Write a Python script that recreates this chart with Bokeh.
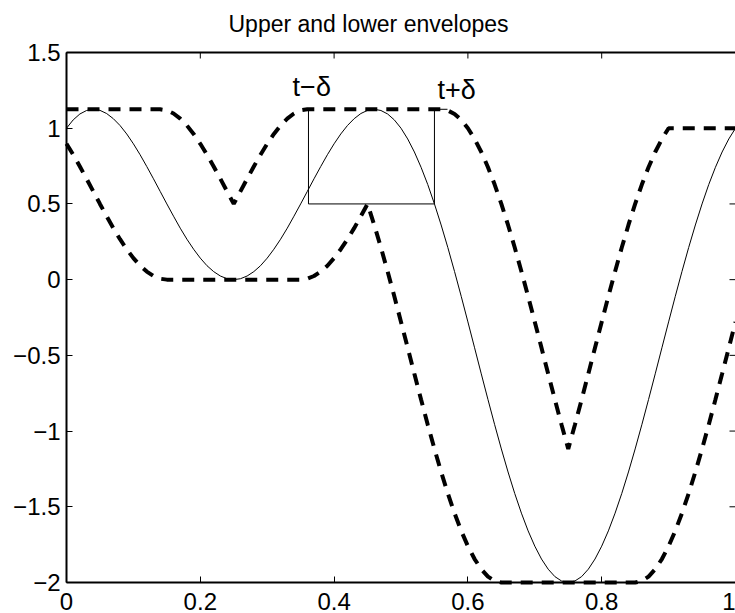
from bokeh.plotting import figure
from bokeh.models import (Range1d, LinearAxis, FixedTicker, Label, ColumnDataSource)
from bokeh.embed import file_html
from bokeh.resources import INLINE

# ---- data ----
t = [k / 100 for k in range(101)]

signal = [1.000, 1.055, 1.094, 1.117, 1.125, 1.118, 1.097, 1.063, 1.018, 0.962,
          0.897, 0.825, 0.747, 0.666, 0.583, 0.500, 0.419, 0.340, 0.267, 0.201,
          0.142, 0.092, 0.053, 0.024, 0.006, 0.000, 0.006, 0.024, 0.053, 0.092,
          0.142, 0.201, 0.267, 0.340, 0.419, 0.500, 0.583, 0.666, 0.747, 0.825,
          0.897, 0.962, 1.018, 1.063, 1.097, 1.118, 1.125, 1.117, 1.094, 1.055,
          1.000, 0.929, 0.843, 0.742, 0.628, 0.500, 0.361, 0.212, 0.054, -0.110,
          -0.279, -0.450, -0.622, -0.792, -0.958, -1.118, -1.270, -1.412, -1.542, -1.659,
          -1.760, -1.845, -1.912, -1.961, -1.990, -2.000, -1.990, -1.961, -1.912, -1.845,
          -1.760, -1.659, -1.542, -1.412, -1.270, -1.118, -0.958, -0.792, -0.622, -0.450,
          -0.279, -0.110, 0.054, 0.212, 0.361, 0.500, 0.628, 0.742, 0.843, 0.929,
          1.000]

upper = [1.125, 1.125, 1.125, 1.125, 1.125, 1.125, 1.125, 1.125, 1.125, 1.125,
         1.125, 1.125, 1.125, 1.125, 1.125, 1.118, 1.097, 1.063, 1.018, 0.962,
         0.897, 0.825, 0.747, 0.666, 0.583, 0.500, 0.583, 0.666, 0.747, 0.825,
         0.897, 0.962, 1.018, 1.063, 1.097, 1.118, 1.125, 1.125, 1.125, 1.125,
         1.125, 1.125, 1.125, 1.125, 1.125, 1.125, 1.125, 1.125, 1.125, 1.125,
         1.125, 1.125, 1.125, 1.125, 1.125, 1.125, 1.125, 1.117, 1.094, 1.055,
         1.000, 0.929, 0.843, 0.742, 0.628, 0.500, 0.361, 0.212, 0.054, -0.110,
         -0.279, -0.450, -0.622, -0.792, -0.958, -1.118, -0.958, -0.792, -0.622, -0.450,
         -0.279, -0.110, 0.054, 0.212, 0.361, 0.500, 0.628, 0.742, 0.843, 0.929,
         1.000, 1.000, 1.000, 1.000, 1.000, 1.000, 1.000, 1.000, 1.000, 1.000,
         1.000]

lower = [0.897, 0.825, 0.747, 0.666, 0.583, 0.500, 0.419, 0.340, 0.267, 0.201,
         0.142, 0.092, 0.053, 0.024, 0.006, 0.000, 0.000, 0.000, 0.000, 0.000,
         0.000, 0.000, 0.000, 0.000, 0.000, 0.000, 0.000, 0.000, 0.000, 0.000,
         0.000, 0.000, 0.000, 0.000, 0.000, 0.000, 0.006, 0.024, 0.053, 0.092,
         0.142, 0.201, 0.267, 0.340, 0.419, 0.500, 0.361, 0.212, 0.054, -0.110,
         -0.279, -0.450, -0.622, -0.792, -0.958, -1.118, -1.270, -1.412, -1.542, -1.659,
         -1.760, -1.845, -1.912, -1.961, -1.990, -2.000, -2.000, -2.000, -2.000, -2.000,
         -2.000, -2.000, -2.000, -2.000, -2.000, -2.000, -2.000, -2.000, -2.000, -2.000,
         -2.000, -2.000, -2.000, -2.000, -2.000, -2.000, -1.990, -1.961, -1.912, -1.845,
         -1.760, -1.659, -1.542, -1.412, -1.270, -1.118, -0.958, -0.792, -0.622, -0.450,
         -0.279]

# window box [t - delta, t + delta]
box_x = [0.3617, 0.3617, 0.550, 0.550, 0.5695]
box_y = [1.125, 0.500, 0.500, 1.125, 1.125]

x_ticks = [0, 0.2, 0.4, 0.6, 0.8, 1]
x_tick_labels = ["0", "0.2", "0.4", "0.6", "0.8", "1"]
y_ticks = [-2, -1.5, -1, -0.5, 0, 0.5, 1, 1.5]
y_tick_labels = ["\u22122", "\u22121.5", "\u22121", "\u22120.5", "0", "0.5", "1", "1.5"]

title_text = "Upper and lower envelopes"
label_left = "t\u2212\u03b4"
label_right = "t+\u03b4"

# ---- layout ----
FONT = "Liberation Sans"
X0, X1, Y0, Y1 = 0, 1, -2, 1.5
W, H = 735, 613
LEFT, TOP, AXIS_BOTTOM = 66, 52, 582          # pixel positions of the axes box
PX_X = (X1 - X0) / (W - LEFT)                  # data units per pixel
PX_Y = (Y1 - Y0) / (AXIS_BOTTOM - TOP)
TICK = 6

# the plotting frame covers the whole canvas; axes are pinned to the box edges
p = figure(width=W, height=H, output_backend="svg", toolbar_location=None,
           x_range=Range1d(X0 - LEFT * PX_X, X1),
           y_range=Range1d(Y0 - (H - AXIS_BOTTOM) * PX_Y, Y1 + TOP * PX_Y),
           x_axis_location=None, y_axis_location=None,
           min_border_left=0, min_border_right=0, min_border_top=0, min_border_bottom=0)
p.outline_line_color = None
p.background_fill_color = "white"
p.border_fill_color = "white"
for g in p.grid:
    g.visible = False

common = dict(major_tick_in=TICK, major_tick_out=0, minor_tick_in=0, minor_tick_out=0,
              major_tick_line_color="black", major_tick_line_width=1,
              axis_line_color=None,
              major_label_text_font=FONT, major_label_text_font_size="24px",
              major_label_text_color="black")

y_axis = LinearAxis(ticker=FixedTicker(ticks=y_ticks), fixed_location=X0,
                    major_label_overrides={tk: lb for tk, lb in zip(y_ticks, y_tick_labels)},
                    major_label_standoff=6, **common)
p.add_layout(y_axis, "left")

x_axis = LinearAxis(ticker=FixedTicker(ticks=x_ticks), fixed_location=Y0,
                    major_label_overrides={tk: lb for tk, lb in zip(x_ticks, x_tick_labels)},
                    major_label_standoff=10, **common)
p.add_layout(x_axis, "below")

# left, top and bottom edges of the axes box
p.segment(x0=[X0, X0, X0], y0=[Y0, Y1, Y0], x1=[X0, X1, X1], y1=[Y1, Y1, Y0],
          line_color="black", line_width=2)

# inward ticks on top and right edges
nx, ny = len(x_ticks), len(y_ticks)
p.segment(x0=x_ticks, y0=[Y1] * nx, x1=x_ticks, y1=[Y1 - TICK * PX_Y] * nx,
          line_color="black", line_width=1)
p.segment(x0=[X1] * ny, y0=y_ticks, x1=[X1 - TICK * PX_X] * ny, y1=y_ticks,
          line_color="black", line_width=1)

# curves
src = ColumnDataSource(dict(t=t, signal=signal, upper=upper, lower=lower))
p.line("t", "signal", source=src, line_color="black", line_width=1)
p.line(box_x, box_y, line_color="black", line_width=1)
p.line("t", "upper", source=src, line_color="black", line_width=4, line_dash="12 9")
p.line("t", "lower", source=src, line_color="black", line_width=4, line_dash="12 9")

# title and window labels
p.add_layout(Label(x=X0 + (228 - LEFT) * PX_X, y=Y1 + (TOP - 23) * PX_Y, text=title_text,
                   text_align="left", text_baseline="middle", text_font=FONT,
                   text_font_size="23px", text_color="black"))
p.add_layout(Label(x=0.338, y=1.269, text=label_left, text_align="left",
                   text_baseline="middle", text_font=FONT, text_font_size="27px",
                   text_color="black"))
p.add_layout(Label(x=0.5546, y=1.252, text=label_right, text_align="left",
                   text_baseline="middle", text_font=FONT, text_font_size="27px",
                   text_color="black"))

open("out.html", "w").write(file_html(p, INLINE))
